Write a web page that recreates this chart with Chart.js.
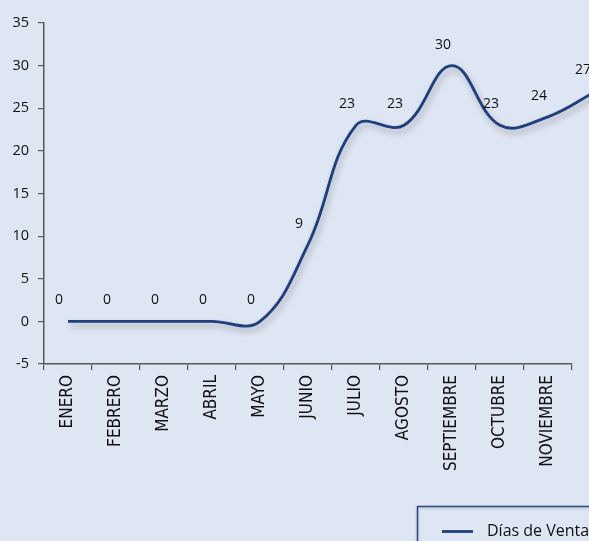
<!DOCTYPE html>
<html>
<head>
<meta charset="utf-8">
<script src="https://cdn.jsdelivr.net/npm/chart.js@4/dist/chart.umd.min.js"></script>
<style>
  html, body { margin: 0; padding: 0; background: #dfe6f3; }
  #lineChart { display: block; }
</style>
</head>
<body>
<canvas id="lineChart" width="589" height="541"></canvas>
<script>
// datos del grafico
var meses = ['ENERO', 'FEBRERO', 'MARZO', 'ABRIL', 'MAYO', 'JUNIO', 'JULIO', 'AGOSTO', 'SEPTIEMBRE', 'OCTUBRE', 'NOVIEMBRE', 'DICIEMBRE'];
var diasVenta = [0, 0, 0, 0, 0, 9, 23, 23, 30, 23, 24, 27];
var mesesVisibles = 11; // DICIEMBRE queda fuera del recuadro
var serieNombre = 'Días de Venta';

var azul = '#1f3f7f';
var gris = '#595959';

// sombra debajo de la linea
var sombraLinea = {
  id: 'sombraLinea',
  beforeDatasetDraw: function(chart) {
    var ctx = chart.ctx;
    ctx.save();
    ctx.shadowColor = 'rgba(0,0,0,0.28)';
    ctx.shadowBlur = 6;
    ctx.shadowOffsetX = 2;
    ctx.shadowOffsetY = 4;
  },
  afterDatasetDraw: function(chart) {
    chart.ctx.restore();
  }
};

// etiquetas de valores encima de cada punto
var etiquetasValor = {
  id: 'etiquetasValor',
  afterDatasetsDraw: function(chart) {
    var ctx = chart.ctx;
    var meta = chart.getDatasetMeta(0);
    ctx.save();
    ctx.font = '14px "Open Sans"';
    ctx.fillStyle = '#111111';
    ctx.textAlign = 'center';
    ctx.textBaseline = 'middle';
    meta.data.forEach(function(p, i) {
      var x = Math.min(p.x - 9, chart.width - 6);
      ctx.fillText(diasVenta[i], x, p.y - 21);
    });
    ctx.restore();
  }
};

// leyenda tipo excel abajo a la derecha
var leyendaCaja = {
  id: 'leyendaCaja',
  afterDraw: function(chart) {
    var ctx = chart.ctx;
    ctx.save();
    ctx.shadowColor = 'rgba(0,0,0,0.25)';
    ctx.shadowBlur = 3;
    ctx.shadowOffsetY = 1;
    ctx.strokeStyle = '#2c4a85';
    ctx.lineWidth = 1.5;
    ctx.strokeRect(417.5, 506.5, 200, 60);
    ctx.restore();
    ctx.save();
    ctx.strokeStyle = azul;
    ctx.lineWidth = 2.8;
    ctx.beginPath();
    ctx.moveTo(442, 531.5);
    ctx.lineTo(473, 531.5);
    ctx.stroke();
    ctx.font = '16px "Open Sans"';
    ctx.fillStyle = '#111111';
    ctx.textBaseline = 'middle';
    ctx.fillText(chart.data.datasets[0].label, 487, 531);
    ctx.restore();
  }
};

var lineChartCanvas = document.getElementById('lineChart').getContext('2d');
var lineChart = new Chart(lineChartCanvas, {
  type: 'line',
  data: {
    datasets: [
      {
        label: serieNombre,
        data: diasVenta.map(function(v, i) { return { x: i, y: v }; }),
        xAxisID: 'x',
        yAxisID: 'y',
        borderColor: azul,
        backgroundColor: azul,
        borderWidth: 2.9,
        pointRadius: 0,
        tension: 0.4,
        fill: false,
        clip: false
      }
    ]
  },
  options: {
    responsive: false,
    animation: false,
    layout: { padding: { top: 23, right: 17, left: 0, bottom: 0 } },
    elements: { line: { capBezierPoints: false } },
    plugins: {
      legend: { display: false },
      tooltip: { enabled: false }
    },
    scales: {
      // eje numerico oculto para colocar los puntos (DICIEMBRE cae fuera)
      x: {
        type: 'linear',
        display: false,
        min: -0.5,
        max: mesesVisibles - 0.5
      },
      // eje de meses que se ve
      meses: {
        type: 'category',
        position: 'bottom',
        labels: meses.slice(0, mesesVisibles),
        offset: true,
        afterFit: function(scale) { scale.height = 177; },
        grid: { display: true, offset: true, drawOnChartArea: false, drawTicks: true, tickLength: 6, color: gris, lineWidth: 1.2 },
        border: { display: true, color: gris, width: 1.5 },
        ticks: {
          autoSkip: false,
          minRotation: 90,
          maxRotation: 90,
          padding: 5,
          color: '#111111',
          font: { family: '"Liberation Sans Narrow", "DejaVu Sans Condensed", "Liberation Sans"', size: 17 }
        }
      },
      y: {
        min: -5,
        max: 35,
        afterFit: function(scale) { scale.width = 44; },
        grid: { display: true, drawOnChartArea: false, drawTicks: true, tickLength: 6, color: gris, lineWidth: 1.2 },
        border: { display: true, color: gris, width: 1.5 },
        ticks: {
          stepSize: 5,
          padding: 9,
          color: '#111111',
          font: { family: '"Open Sans"', size: 14.5 }
        }
      }
    }
  },
  plugins: [sombraLinea, etiquetasValor, leyendaCaja]
});
</script>
</body>
</html>
